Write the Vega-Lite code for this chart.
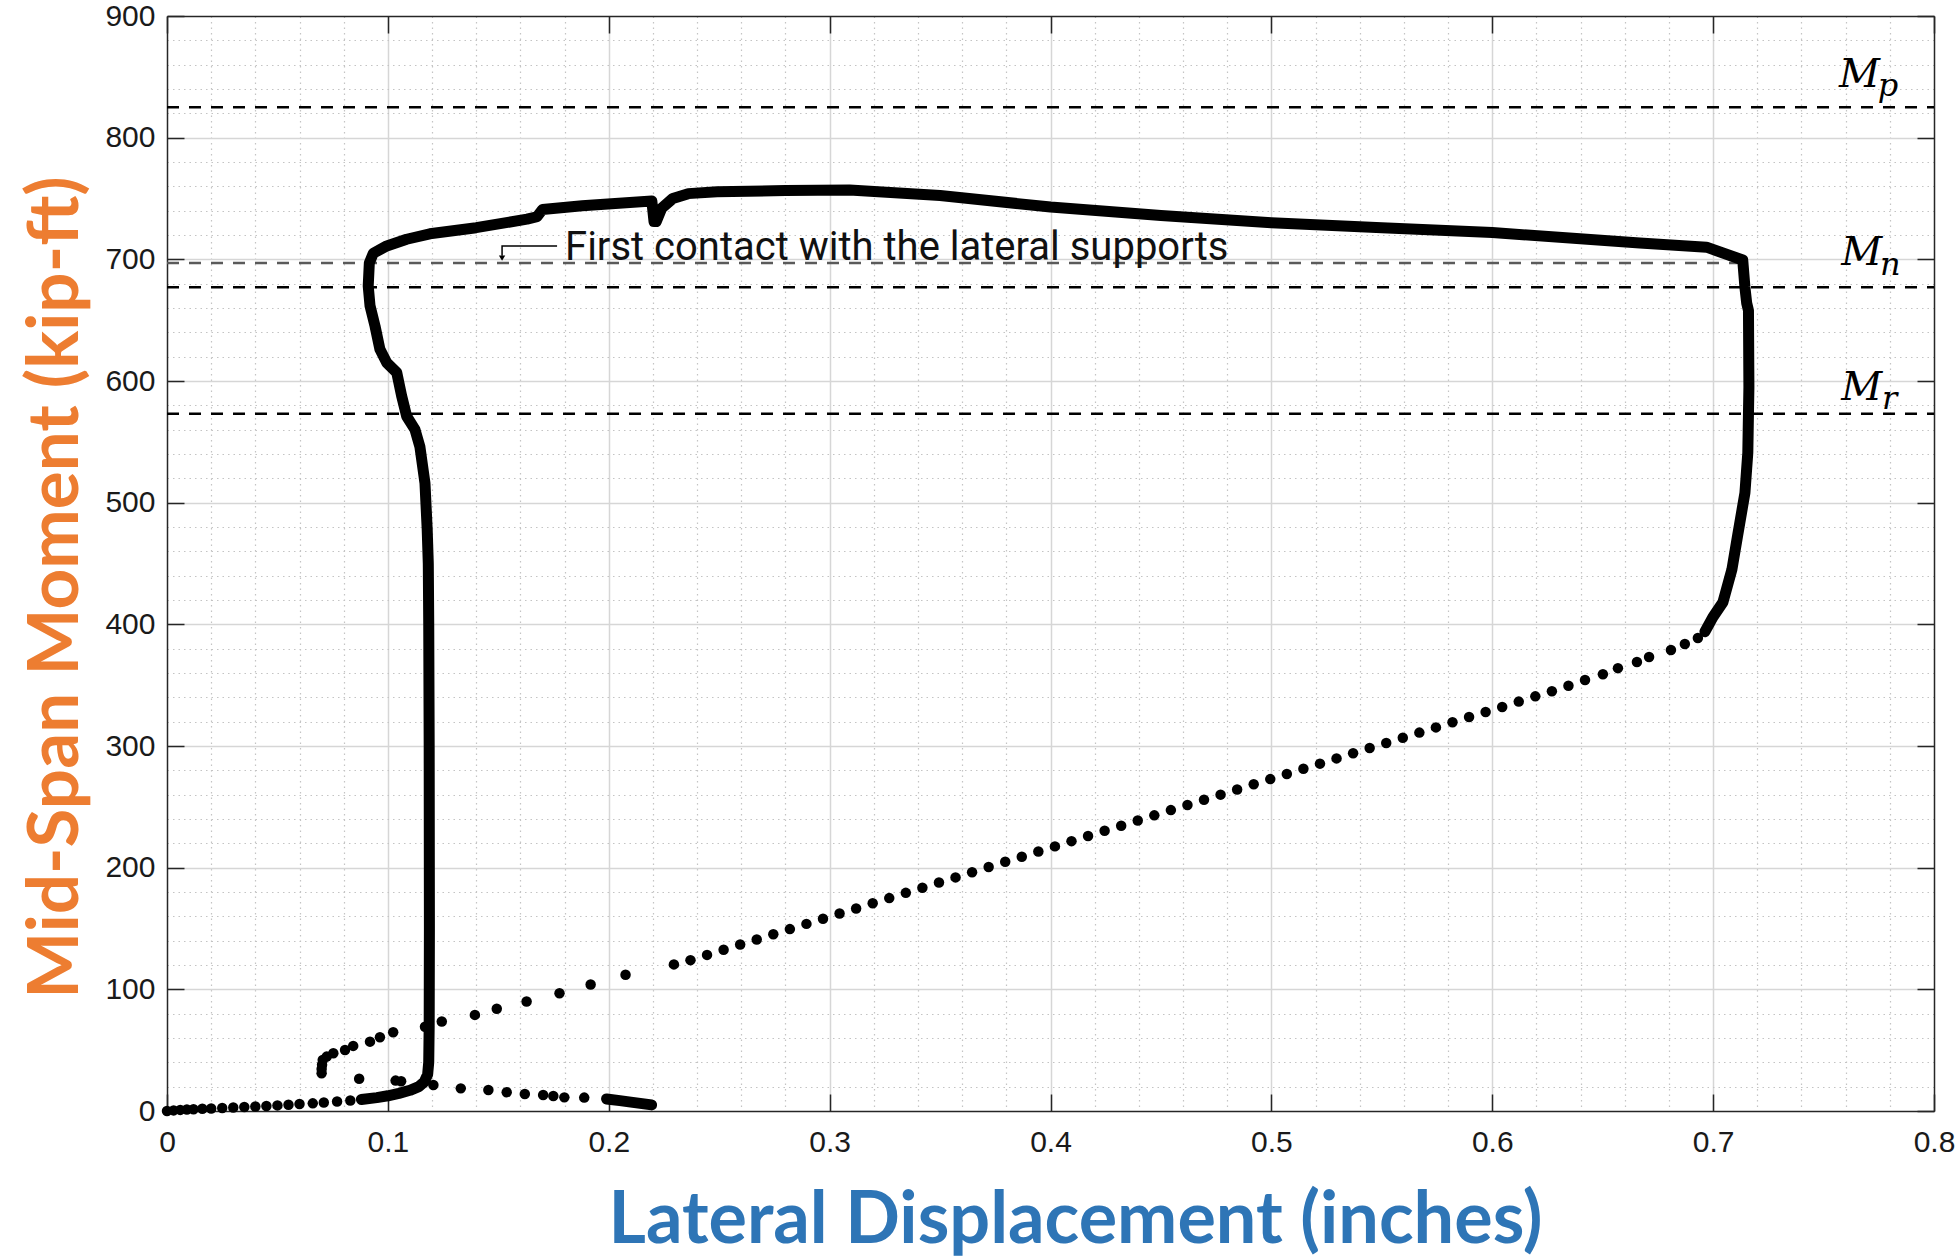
{
  "$schema": "https://vega.github.io/schema/vega-lite/v6.json",
  "width": 1767,
  "height": 1095,
  "autosize": {"type": "none"},
  "padding": {"left": 167, "top": 16, "right": 25, "bottom": 145},
  "background": "white",
  "config": {"view": {"stroke": null}},
  "resolve": {"axis": {"x": "independent", "y": "independent"}},
  "datasets": {
    "refs": [
      {"name": "Mp", "m": 825, "x0": 0, "x1": 0.8},
      {"name": "Mn", "m": 677, "x0": 0, "x1": 0.8},
      {"name": "Mr", "m": 573, "x0": 0, "x1": 0.8}
    ],
    "contact": [
      {"m": 697, "x0": 0, "x1": 0.712}
    ],
    "curve": [
      {"seg": "A", "o": 1, "v": 0.088, "m": 9.5},
      {"seg": "A", "o": 2, "v": 0.095, "m": 11},
      {"seg": "A", "o": 3, "v": 0.1, "m": 12.5},
      {"seg": "A", "o": 4, "v": 0.105, "m": 14.5},
      {"seg": "A", "o": 5, "v": 0.11, "m": 17},
      {"seg": "A", "o": 6, "v": 0.114, "m": 20},
      {"seg": "A", "o": 7, "v": 0.1165, "m": 24},
      {"seg": "A", "o": 8, "v": 0.118, "m": 30},
      {"seg": "A", "o": 9, "v": 0.1185, "m": 40},
      {"seg": "A", "o": 10, "v": 0.1187, "m": 70},
      {"seg": "A", "o": 11, "v": 0.1188, "m": 150},
      {"seg": "A", "o": 12, "v": 0.1187, "m": 300},
      {"seg": "A", "o": 13, "v": 0.1185, "m": 400},
      {"seg": "A", "o": 14, "v": 0.1183, "m": 450},
      {"seg": "A", "o": 15, "v": 0.1178, "m": 478},
      {"seg": "A", "o": 16, "v": 0.1168, "m": 516},
      {"seg": "A", "o": 17, "v": 0.1145, "m": 546},
      {"seg": "A", "o": 18, "v": 0.1123, "m": 560},
      {"seg": "A", "o": 19, "v": 0.1085, "m": 571},
      {"seg": "A", "o": 20, "v": 0.1062, "m": 588},
      {"seg": "A", "o": 21, "v": 0.104, "m": 607},
      {"seg": "A", "o": 22, "v": 0.0995, "m": 615},
      {"seg": "A", "o": 23, "v": 0.0964, "m": 626},
      {"seg": "A", "o": 24, "v": 0.0942, "m": 645},
      {"seg": "A", "o": 25, "v": 0.0919, "m": 662},
      {"seg": "A", "o": 26, "v": 0.0911, "m": 678},
      {"seg": "A", "o": 27, "v": 0.0916, "m": 697},
      {"seg": "A", "o": 28, "v": 0.0934, "m": 705},
      {"seg": "A", "o": 29, "v": 0.0995, "m": 711},
      {"seg": "A", "o": 30, "v": 0.1085, "m": 716.5},
      {"seg": "A", "o": 31, "v": 0.119, "m": 721},
      {"seg": "A", "o": 32, "v": 0.14, "m": 726},
      {"seg": "A", "o": 33, "v": 0.163, "m": 733},
      {"seg": "A", "o": 34, "v": 0.1675, "m": 735},
      {"seg": "A", "o": 35, "v": 0.17, "m": 741},
      {"seg": "A", "o": 36, "v": 0.188, "m": 744},
      {"seg": "A", "o": 37, "v": 0.2195, "m": 748},
      {"seg": "A", "o": 38, "v": 0.2205, "m": 731},
      {"seg": "A", "o": 39, "v": 0.2215, "m": 731},
      {"seg": "A", "o": 40, "v": 0.224, "m": 742},
      {"seg": "A", "o": 41, "v": 0.229, "m": 750},
      {"seg": "A", "o": 42, "v": 0.236, "m": 754},
      {"seg": "A", "o": 43, "v": 0.249, "m": 755.5},
      {"seg": "A", "o": 44, "v": 0.28, "m": 756.5},
      {"seg": "A", "o": 45, "v": 0.309, "m": 757},
      {"seg": "A", "o": 46, "v": 0.35, "m": 752.5},
      {"seg": "A", "o": 47, "v": 0.4, "m": 743},
      {"seg": "A", "o": 48, "v": 0.45, "m": 736},
      {"seg": "A", "o": 49, "v": 0.5, "m": 730},
      {"seg": "A", "o": 50, "v": 0.55, "m": 726},
      {"seg": "A", "o": 51, "v": 0.6, "m": 722},
      {"seg": "A", "o": 52, "v": 0.6668, "m": 713.5},
      {"seg": "A", "o": 53, "v": 0.697, "m": 710},
      {"seg": "A", "o": 54, "v": 0.7134, "m": 699.5},
      {"seg": "A", "o": 55, "v": 0.7144, "m": 677},
      {"seg": "A", "o": 56, "v": 0.7152, "m": 664},
      {"seg": "A", "o": 57, "v": 0.716, "m": 658},
      {"seg": "A", "o": 58, "v": 0.7162, "m": 595},
      {"seg": "A", "o": 59, "v": 0.7157, "m": 541},
      {"seg": "A", "o": 60, "v": 0.7144, "m": 508},
      {"seg": "A", "o": 61, "v": 0.711, "m": 472},
      {"seg": "A", "o": 62, "v": 0.7085, "m": 445},
      {"seg": "A", "o": 63, "v": 0.7044, "m": 418},
      {"seg": "A", "o": 64, "v": 0.6999, "m": 406},
      {"seg": "A", "o": 65, "v": 0.6963, "m": 394},
      {"seg": "B", "o": 1, "v": 0.199, "m": 9.9},
      {"seg": "B", "o": 2, "v": 0.205, "m": 8.5},
      {"seg": "B", "o": 3, "v": 0.21, "m": 7.3},
      {"seg": "B", "o": 4, "v": 0.2194, "m": 5}
    ],
    "dots": [
      {"v": 0, "m": 0}, {"v": 0.003, "m": 0.5}, {"v": 0.006, "m": 0.9}, {"v": 0.009, "m": 1.2},
      {"v": 0.012, "m": 1.5}, {"v": 0.016, "m": 1.8}, {"v": 0.02, "m": 2.1}, {"v": 0.025, "m": 2.5},
      {"v": 0.03, "m": 2.9}, {"v": 0.035, "m": 3.3}, {"v": 0.04, "m": 3.7}, {"v": 0.045, "m": 4.1},
      {"v": 0.05, "m": 4.6}, {"v": 0.055, "m": 5.1}, {"v": 0.06, "m": 5.7}, {"v": 0.066, "m": 6.3},
      {"v": 0.071, "m": 7}, {"v": 0.077, "m": 7.8}, {"v": 0.083, "m": 8.6},
      {"v": 0.07, "m": 31}, {"v": 0.07, "m": 34.5}, {"v": 0.0702, "m": 38}, {"v": 0.0705, "m": 42},
      {"v": 0.0723, "m": 44.7}, {"v": 0.0753, "m": 47.5}, {"v": 0.0806, "m": 50.2}, {"v": 0.0843, "m": 53.5},
      {"v": 0.0919, "m": 57}, {"v": 0.0964, "m": 60.6}, {"v": 0.1024, "m": 64.7}, {"v": 0.1168, "m": 69.3},
      {"v": 0.1244, "m": 73.5}, {"v": 0.1394, "m": 79}, {"v": 0.1493, "m": 84}, {"v": 0.1628, "m": 90},
      {"v": 0.1777, "m": 96.8}, {"v": 0.1918, "m": 104}, {"v": 0.2076, "m": 112},
      {"v": 0.2295, "m": 120.5}, {"v": 0.237, "m": 124}, {"v": 0.2445, "m": 128.3}, {"v": 0.252, "m": 132.5},
      {"v": 0.2595, "m": 136.8}, {"v": 0.267, "m": 141}, {"v": 0.2745, "m": 145.3}, {"v": 0.282, "m": 149.5},
      {"v": 0.2895, "m": 153.8}, {"v": 0.297, "m": 158}, {"v": 0.3045, "m": 162.3}, {"v": 0.312, "m": 166.5},
      {"v": 0.3195, "m": 170.8}, {"v": 0.327, "m": 175}, {"v": 0.3345, "m": 179.3}, {"v": 0.342, "m": 183.5},
      {"v": 0.3495, "m": 187.8}, {"v": 0.357, "m": 192}, {"v": 0.3645, "m": 196.3}, {"v": 0.372, "m": 200.5},
      {"v": 0.3795, "m": 204.8}, {"v": 0.387, "m": 209}, {"v": 0.3945, "m": 213.3}, {"v": 0.402, "m": 217.5},
      {"v": 0.4095, "m": 221.8}, {"v": 0.417, "m": 226}, {"v": 0.4245, "m": 230.3}, {"v": 0.432, "m": 234.5},
      {"v": 0.4395, "m": 238.8}, {"v": 0.447, "m": 243}, {"v": 0.4545, "m": 247.3}, {"v": 0.462, "m": 251.5},
      {"v": 0.4695, "m": 255.8}, {"v": 0.477, "m": 260}, {"v": 0.4845, "m": 264.3}, {"v": 0.492, "m": 268.5},
      {"v": 0.4995, "m": 272.8}, {"v": 0.507, "m": 277}, {"v": 0.5145, "m": 281.3}, {"v": 0.522, "m": 285.5},
      {"v": 0.5295, "m": 289.8}, {"v": 0.537, "m": 294}, {"v": 0.5445, "m": 298.3}, {"v": 0.552, "m": 302.5},
      {"v": 0.5595, "m": 306.8}, {"v": 0.567, "m": 311}, {"v": 0.5745, "m": 315.3}, {"v": 0.582, "m": 319.5},
      {"v": 0.5895, "m": 323.8}, {"v": 0.597, "m": 328}, {"v": 0.6045, "m": 332}, {"v": 0.612, "m": 336.5},
      {"v": 0.6195, "m": 340.8}, {"v": 0.627, "m": 345}, {"v": 0.6345, "m": 349.5}, {"v": 0.642, "m": 354.2},
      {"v": 0.6501, "m": 359}, {"v": 0.6569, "m": 364}, {"v": 0.6655, "m": 369}, {"v": 0.671, "m": 373.1},
      {"v": 0.6809, "m": 378.9}, {"v": 0.6872, "m": 383.8}, {"v": 0.6931, "m": 388.8},
      {"v": 0.087, "m": 26.5}, {"v": 0.1035, "m": 25}, {"v": 0.106, "m": 24.5},
      {"v": 0.1206, "m": 21.4}, {"v": 0.133, "m": 18.6}, {"v": 0.1455, "m": 17.3}, {"v": 0.1538, "m": 15.4},
      {"v": 0.162, "m": 14}, {"v": 0.1703, "m": 13.2}, {"v": 0.1749, "m": 12.3}, {"v": 0.1799, "m": 11.2},
      {"v": 0.1889, "m": 11}
    ],
    "arrow": [
      {"o": 1, "v": 0.1766, "m": 711},
      {"o": 2, "v": 0.1517, "m": 711},
      {"o": 3, "v": 0.1517, "m": 703}
    ],
    "arrowhead": [{"v": 0.1517, "m": 701}],
    "note": [{"v": 0.1802, "m": 699.5, "t": "First contact with the lateral supports"}],
    "mlab": [
      {"v": 0.757, "m": 841.5, "t": "M"},
      {"v": 0.758, "m": 695.5, "t": "M"},
      {"v": 0.758, "m": 584.5, "t": "M"}
    ],
    "msub": [
      {"v": 0.7745, "m": 834, "t": "p"},
      {"v": 0.7755, "m": 687, "t": "n"},
      {"v": 0.7765, "m": 577, "t": "r"}
    ]
  },
  "layer": [
    {
      "data": {"name": "refs"},
      "mark": {"type": "rule", "color": "#000000", "strokeWidth": 2.5, "strokeDash": [12, 10]},
      "encoding": {
        "x": {"field": "x0", "type": "quantitative", "scale": {"domain": [0, 0.8], "nice": false},
          "axis": {"orient": "bottom", "values": [0.02,0.04,0.06,0.08,0.12,0.14,0.16,0.18,0.22,0.24,0.26,0.28,0.32,0.34,0.36,0.38,0.42,0.44,0.46,0.48,0.52,0.54,0.56,0.58,0.62,0.64,0.66,0.68,0.72,0.74,0.76,0.78],
            "grid": true, "gridColor": "#c4c4c4", "gridDash": [1.5, 4], "gridWidth": 1.2,
            "labels": false, "ticks": false, "domain": false, "title": null}},
        "x2": {"field": "x1"},
        "y": {"field": "m", "type": "quantitative", "scale": {"domain": [0, 900], "nice": false},
          "axis": {"orient": "left", "values": [20,40,60,80,120,140,160,180,220,240,260,280,320,340,360,380,420,440,460,480,520,540,560,580,620,640,660,680,720,740,760,780,820,840,860,880],
            "grid": true, "gridColor": "#c4c4c4", "gridDash": [1.5, 4], "gridWidth": 1.2,
            "labels": false, "ticks": false, "domain": false, "title": null}}
      }
    },
    {
      "data": {"name": "contact"},
      "mark": {"type": "rule", "color": "#5a5a5a", "strokeWidth": 2.5, "strokeDash": [12, 10]},
      "encoding": {
        "x": {"field": "x0", "type": "quantitative", "scale": {"domain": [0, 0.8], "nice": false},
          "axis": {"orient": "bottom", "values": [0.1,0.2,0.3,0.4,0.5,0.6,0.7],
            "grid": true, "gridColor": "#d6d6d6", "gridWidth": 1.5,
            "labels": false, "ticks": false, "domain": false, "title": null}},
        "x2": {"field": "x1"},
        "y": {"field": "m", "type": "quantitative", "scale": {"domain": [0, 900], "nice": false},
          "axis": {"orient": "left", "values": [100,200,300,400,500,600,700,800],
            "grid": true, "gridColor": "#d6d6d6", "gridWidth": 1.5,
            "labels": false, "ticks": false, "domain": false, "title": null}}
      }
    },
    {
      "data": {"name": "curve"},
      "mark": {"type": "line", "color": "#000000", "strokeWidth": 11, "strokeCap": "round", "strokeJoin": "round"},
      "encoding": {
        "x": {"field": "v", "type": "quantitative", "scale": {"domain": [0, 0.8], "nice": false},
          "axis": {"orient": "bottom", "values": [0,0.1,0.2,0.3,0.4,0.5,0.6,0.7,0.8], "format": ".1~f",
            "grid": false, "ticks": false, "domain": false, "labelFlush": false, "labelOverlap": false,
            "labelFont": "Liberation Sans", "labelFontSize": 30, "labelColor": "#1a1a1a", "labelPadding": 16,
            "title": "Lateral Displacement (inches)", "titleFont": "Lato", "titleFontWeight": "bold",
            "titleFontSize": 72, "titleColor": "#2E75B6", "titleX": 908, "titleY": 131,
            "titleAlign": "center", "titleBaseline": "alphabetic"}},
        "y": {"field": "m", "type": "quantitative", "scale": {"domain": [0, 900], "nice": false},
          "axis": {"orient": "left", "values": [0,100,200,300,400,500,600,700,800,900], "format": "d",
            "grid": false, "ticks": false, "domain": false, "labelFlush": false, "labelOverlap": false,
            "labelFont": "Liberation Sans", "labelFontSize": 30, "labelColor": "#1a1a1a", "labelPadding": 12,
            "title": "Mid-Span Moment (kip-ft)", "titleFont": "Lato", "titleFontWeight": "bold",
            "titleFontSize": 71, "titleColor": "#ED7D31", "titleAngle": -90, "titleX": -90, "titleY": 571,
            "titleAlign": "center", "titleBaseline": "alphabetic"}},
        "detail": {"field": "seg", "type": "nominal"},
        "order": {"field": "o", "type": "quantitative"}
      }
    },
    {
      "data": {"name": "dots"},
      "mark": {"type": "circle", "color": "#000000", "opacity": 1, "size": 110},
      "encoding": {
        "x": {"field": "v", "type": "quantitative", "scale": {"domain": [0, 0.8], "nice": false},
          "axis": {"orient": "bottom", "values": [0,0.1,0.2,0.3,0.4,0.5,0.6,0.7,0.8],
            "grid": false, "labels": false, "ticks": true, "tickSize": -17, "tickColor": "#262626", "tickWidth": 1.5,
            "domain": true, "domainColor": "#262626", "domainWidth": 1.5, "title": null}},
        "y": {"field": "m", "type": "quantitative", "scale": {"domain": [0, 900], "nice": false},
          "axis": {"orient": "left", "values": [0,100,200,300,400,500,600,700,800,900],
            "grid": false, "labels": false, "ticks": true, "tickSize": -17, "tickColor": "#262626", "tickWidth": 1.5,
            "domain": true, "domainColor": "#262626", "domainWidth": 1.5, "title": null}}
      }
    },
    {
      "data": {"name": "arrow"},
      "mark": {"type": "line", "color": "#000000", "strokeWidth": 1.5},
      "encoding": {
        "x": {"field": "v", "type": "quantitative", "scale": {"domain": [0, 0.8], "nice": false},
          "axis": {"orient": "top", "values": [0,0.1,0.2,0.3,0.4,0.5,0.6,0.7,0.8],
            "grid": false, "labels": false, "ticks": true, "tickSize": -17, "tickColor": "#262626", "tickWidth": 1.5,
            "domain": true, "domainColor": "#262626", "domainWidth": 1.5, "title": null}},
        "y": {"field": "m", "type": "quantitative", "scale": {"domain": [0, 900], "nice": false},
          "axis": {"orient": "right", "values": [0,100,200,300,400,500,600,700,800,900],
            "grid": false, "labels": false, "ticks": true, "tickSize": -17, "tickColor": "#262626", "tickWidth": 1.5,
            "domain": true, "domainColor": "#262626", "domainWidth": 1.5, "title": null}},
        "order": {"field": "o", "type": "quantitative"}
      }
    },
    {
      "data": {"name": "arrowhead"},
      "mark": {"type": "point", "shape": "triangle-down", "filled": true, "color": "#000000", "opacity": 1, "size": 40},
      "encoding": {
        "x": {"field": "v", "type": "quantitative", "scale": {"domain": [0, 0.8], "nice": false}, "axis": null},
        "y": {"field": "m", "type": "quantitative", "scale": {"domain": [0, 900], "nice": false}, "axis": null}
      }
    },
    {
      "data": {"name": "note"},
      "mark": {"type": "text", "font": "Roboto", "fontSize": 40, "color": "#111111", "align": "left", "baseline": "alphabetic"},
      "encoding": {
        "x": {"field": "v", "type": "quantitative", "scale": {"domain": [0, 0.8], "nice": false}, "axis": null},
        "y": {"field": "m", "type": "quantitative", "scale": {"domain": [0, 900], "nice": false}, "axis": null},
        "text": {"field": "t"}
      }
    },
    {
      "data": {"name": "mlab"},
      "mark": {"type": "text", "font": "DejaVu Serif", "fontStyle": "italic", "fontSize": 40, "color": "#000000", "align": "left", "baseline": "alphabetic"},
      "encoding": {
        "x": {"field": "v", "type": "quantitative", "scale": {"domain": [0, 0.8], "nice": false}, "axis": null},
        "y": {"field": "m", "type": "quantitative", "scale": {"domain": [0, 900], "nice": false}, "axis": null},
        "text": {"field": "t"}
      }
    },
    {
      "data": {"name": "msub"},
      "mark": {"type": "text", "font": "DejaVu Serif", "fontStyle": "italic", "fontSize": 32, "color": "#000000", "align": "left", "baseline": "alphabetic"},
      "encoding": {
        "x": {"field": "v", "type": "quantitative", "scale": {"domain": [0, 0.8], "nice": false}, "axis": null},
        "y": {"field": "m", "type": "quantitative", "scale": {"domain": [0, 900], "nice": false}, "axis": null},
        "text": {"field": "t"}
      }
    }
  ]
}
